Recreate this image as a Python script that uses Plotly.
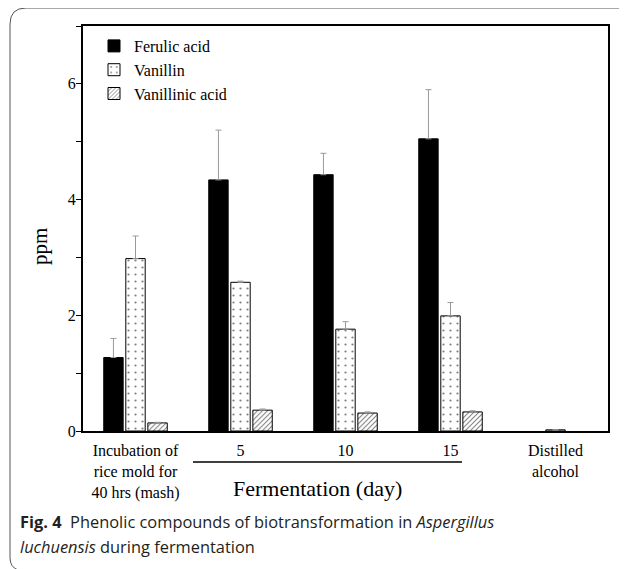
import plotly.graph_objects as go

# ---- data ----
categories = ["Incubation of<br>rice mold for<br>40 hrs (mash)", "5", "10", "15", "Distilled<br>alcohol"]
ferulic = [1.27, 4.34, 4.43, 5.05, None]
ferulic_err = [0.33, 0.86, 0.37, 0.85, 0.0]
vanillin = [2.98, 2.57, 1.76, 1.99, 0.02]
vanillin_err = [0.39, 0.02, 0.13, 0.23, 0.0]
vanillinic = [0.14, 0.36, 0.31, 0.33, None]
vanillinic_err = [0.01, 0.02, 0.02, 0.02, 0.0]
y_ticks = [0, 2, 4, 6]

# page body has an 8px margin; figure drawn in reference pixel coordinates
OFF = 8
W, H = 627 - OFF, 569 - OFF
L, R, T, B = 83, 608, 26, 431
PW, PH = R - L, B - T

def px(x):
    return (x - L) / PW

def py(y):
    return (B - y) / PH

serif = "Liberation Serif, Times New Roman, serif"
sans = "Open Sans, Noto Sans, sans-serif"

xpos = list(range(len(categories)))

fig = go.Figure()
err_style = dict(type="data", symmetric=False, color="#999999", thickness=1, width=3)

fig.add_trace(go.Bar(
    name="Ferulic acid", x=xpos, y=ferulic,
    marker=dict(color="black", line=dict(color="black", width=1)),
    error_y=dict(array=ferulic_err, arrayminus=[0] * 5, **err_style),
))
fig.add_trace(go.Bar(
    name="Vanillin", x=xpos, y=vanillin,
    marker=dict(color="white", line=dict(color="black", width=1),
                pattern=dict(shape=".", fgcolor="black", bgcolor="white", size=7, solidity=0.08)),
    error_y=dict(array=vanillin_err, arrayminus=[0] * 5, **err_style),
))
fig.add_trace(go.Bar(
    name="Vanillinic acid", x=xpos, y=vanillinic,
    marker=dict(color="white", line=dict(color="black", width=1),
                pattern=dict(shape="/", fgcolor="black", bgcolor="white", size=3.5, solidity=0.3)),
    error_y=dict(array=vanillinic_err, arrayminus=[0] * 5, **err_style),
))

annotations = [
    dict(text="ppm", x=px(40), y=py(247), xref="paper", yref="paper", showarrow=False,
         xanchor="center", yanchor="middle",
         textangle=-90, font=dict(family=serif, size=21, color="black")),
    dict(text="Fermentation (day)", x=px(317), y=py(488), xref="paper", yref="paper", showarrow=False,
         xanchor="center", yanchor="middle",
         font=dict(family=serif, size=22, color="black")),
    dict(text="<b>Fig. 4</b>  Phenolic compounds of biotransformation in <i>Aspergillus</i>",
         x=px(18), y=py(521), xref="paper", yref="paper", xanchor="left", yanchor="middle",
         showarrow=False, font=dict(family=sans, size=16.4, color="#231f20")),
    dict(text="<i>luchuensis</i> during fermentation",
         x=px(18), y=py(546), xref="paper", yref="paper", xanchor="left", yanchor="middle",
         showarrow=False, font=dict(family=sans, size=16.4, color="#231f20")),
]

shapes = [
    dict(type="line", xref="paper", yref="paper", x0=px(193), x1=px(462), y0=py(462), y1=py(462),
         line=dict(color="black", width=1.5)),
    dict(type="path", xref="paper", yref="paper",
         path=(f"M{px(623)},{py(8)} L{px(26)},{py(8)} Q{px(10)},{py(8)} {px(10)},{py(24)} "
               f"L{px(10)},{py(558)} Q{px(10)},{py(567)} {px(18)},{py(570)}"),
         line=dict(color="#555555", width=1)),
]

fig.update_layout(
    width=W, height=H,
    margin=dict(l=L - OFF, r=627 - R, t=T - OFF, b=569 - B),
    paper_bgcolor="white", plot_bgcolor="white",
    barmode="group", bargap=0.37, bargroupgap=0.12,
    showlegend=True,
    legend=dict(x=px(94), y=py(29), xanchor="left", yanchor="top",
                font=dict(family=serif, size=16, color="black"),
                bgcolor="rgba(0,0,0,0)", itemwidth=30, tracegroupgap=0),
    annotations=annotations, shapes=shapes,
    font=dict(family=serif, color="black"),
)
fig.update_xaxes(
    range=[-0.5, 4.5], tickvals=xpos, ticktext=categories, ticks="",
    showline=True, linecolor="black", linewidth=2, mirror=True, showgrid=False, zeroline=False,
    tickfont=dict(family=serif, size=16, color="black"), ticklabelstandoff=4,
)
fig.update_yaxes(
    range=[0, 7], tickvals=y_ticks, ticks="outside", ticklen=5, tickwidth=1, tickcolor="black",
    minor=dict(dtick=1, ticks="outside", ticklen=5, tickcolor="black", showgrid=False),
    showline=True, linecolor="black", linewidth=2, mirror=True, showgrid=False, zeroline=False,
    tickfont=dict(family=serif, size=16, color="black"), ticklabelstandoff=-3,
)

fig.write_html("out.html")
